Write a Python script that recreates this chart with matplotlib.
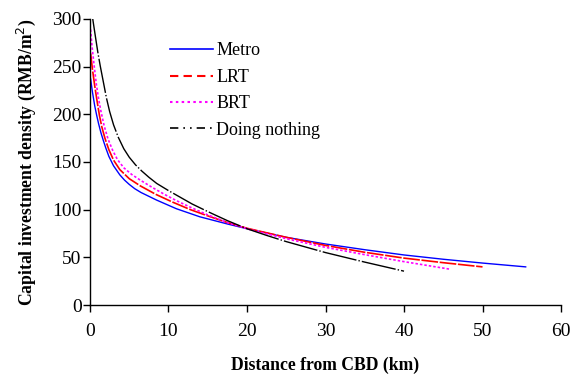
import matplotlib
matplotlib.use("Agg")
import matplotlib.pyplot as plt
from matplotlib.lines import Line2D

# values (distance from CBD in km, density in RMB/m2)
metro_x = [0.08, 0.3, 0.6, 0.85, 1.1, 1.4, 1.7, 2, 2.4, 3, 3.8, 4.4, 5, 5.7, 6.5, 8.5, 11, 14,
           17.5, 20, 25, 30, 35, 40, 45, 50, 55.5]
metro_y = [237, 224, 209, 199, 190, 180.5, 172.5, 165, 156, 146, 136.5, 131, 126.5, 122, 118, 110, 101, 92.5,
           85, 80, 71, 64, 58, 52.5, 48, 44, 40]

lrt_x = [0.08, 0.3, 0.6, 0.9, 1.2, 1.5, 1.9, 2.4, 3, 3.8, 5, 6.4, 8.4, 10.5, 12.8, 15,
         17.5, 20, 25, 30, 35, 40, 45, 50]
lrt_y = [264, 248, 230, 214, 199, 187, 175, 163, 152, 142, 132.5, 125, 116, 108, 100, 93.5,
         86.5, 80.5, 71, 62.5, 55.3, 49.2, 44.4, 40]

brt_x = [0.08, 0.25, 0.5, 0.8, 1.1, 1.4, 1.8, 2.3, 2.9, 3.5, 4.3, 5.3, 6.4, 8, 9.5, 11,
         12.8, 15, 17.5, 20, 25, 30, 35, 40, 45.9]
brt_y = [289, 272, 253, 232, 216, 203, 188, 174, 162, 152.5, 144, 137, 131, 123, 116, 109.5,
         102.5, 94.5, 86.5, 80, 69.5, 60.5, 52.8, 45.5, 37.5]

none_x = [0.35, 0.7, 1.0, 1.3, 1.7, 2.1, 2.5, 3, 3.6, 4.3, 5, 5.8, 6.6, 7.5, 8.5, 10,
          11.5, 13, 15, 17.5, 20, 22.5, 25, 30, 35, 40]
none_y = [300, 281, 265, 251, 234, 217, 203, 189, 176, 164, 155, 147, 140.5, 134, 127.5, 120,
          113, 106, 98, 88.5, 80, 73, 66.5, 55, 45, 35.5]

labels = ["Metro", "LRT", "BRT", "Doing nothing"]
colors = ["#0000FF", "#FF0000", "#FF00FF", "#000000"]

plt.rcParams["font.family"] = ["Liberation Serif", "DejaVu Serif"]

fig = plt.figure(figsize=(5.78, 3.76), dpi=100)
ax = fig.add_axes([0.1557, 0.1888, 0.8149, 0.7607])

ax.plot(metro_x, metro_y, color=colors[0], lw=1.0)
ax.plot(lrt_x, lrt_y, color=colors[1], lw=1.2, dashes=(10, 1))
ax.plot(brt_x, brt_y, color=colors[2], lw=1.2, dashes=(1.5, 1.2))
ax.plot(none_x, none_y, color=colors[3], lw=1.0, dashes=(25, 1.5, 1, 1.5))

# legend keys use the clearer dash patterns seen in the reference legend
handles = [
    Line2D([], [], color=colors[0], lw=1.2),
    Line2D([], [], color=colors[1], lw=1.5, dashes=(4, 2.5)),
    Line2D([], [], color=colors[2], lw=1.5, dashes=(1.2, 1.6)),
    Line2D([], [], color=colors[3], lw=1.2, dashes=(5, 3, 1, 3, 1, 3)),
]
ax.legend(handles, labels, loc="upper left", bbox_to_anchor=(0.170, 0.918), frameon=False,
          fontsize=13, handlelength=2.4, handletextpad=0.17, labelspacing=0.52,
          borderaxespad=0, borderpad=0)

ax.set_xlim(0, 60)
ax.set_ylim(0, 300)
ax.set_xticks(range(0, 61, 10))
ax.set_yticks(range(0, 301, 50))
ax.spines["top"].set_visible(False)
ax.spines["right"].set_visible(False)
ax.spines["left"].set_linewidth(1.0)
ax.spines["bottom"].set_linewidth(1.0)
ax.tick_params(direction="out", length=5, width=1.0, labelsize=14)
ax.tick_params(axis="x", pad=8)
ax.tick_params(axis="y", pad=1)

ax.set_xlabel("Distance from CBD (km)", fontsize=12.7, fontweight="bold", labelpad=12)
ax.set_ylabel("Capital investment density (RMB/m$^2$)", fontsize=12.7, fontweight="bold", labelpad=10)

fig.savefig("out.png", dpi=100)
